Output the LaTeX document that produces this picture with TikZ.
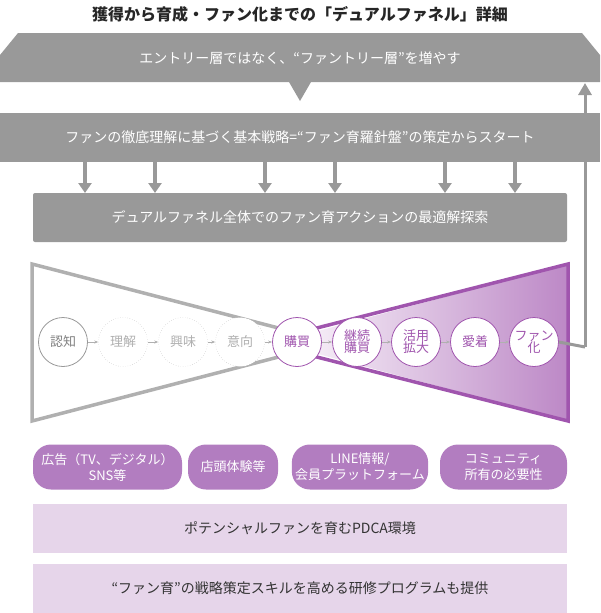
\documentclass[tikz,border=0pt]{standalone}
\usepackage{fontspec}
\setmainfont{Noto Sans CJK JP}
\usetikzlibrary{arrows.meta}
\definecolor{band}{HTML}{999999}
\definecolor{pur}{HTML}{A055AE}
\definecolor{pill}{HTML}{B27DC0}
\definecolor{lav}{HTML}{E6D5EA}
\definecolor{lgray}{HTML}{B0B0B0}
\tikzset{
 wt/.style={text=white,font=\fontsize{14}{17}\selectfont},
 dn/.style={band,line width=4pt,-{Triangle[width=13pt,length=10pt]}},
 stage/.style={circle,minimum size=49pt,inner sep=0pt,fill=white,align=center,font=\fontsize{13}{15}\selectfont},
 pstage/.style={stage,draw=pur,text=pur,line width=0.8pt},
 dstage/.style={stage,draw=lgray,dotted,text=lgray},
 sarr/.style={lgray,line width=0.8pt,-{Stealth[length=4pt]}},
 pillbox/.style={rounded corners=18pt,fill=pill,text=white,align=center,font=\fontsize{13}{16}\selectfont,minimum height=45pt},
 bar/.style={fill=lav,minimum width=534pt,minimum height=49pt,font=\fontsize{14}{17}\selectfont,text=black!80}
}
\begin{document}
\begin{tikzpicture}[x=1pt,y=-1pt]
\useasboundingbox (0,0) rectangle (600,613);
\node[font=\fontsize{16}{19}\selectfont\bfseries,text=black!85] (title) at (300,14) {獲得から育成・ファン化までの「デュアルファネル」詳細};
% top band
\fill[band] (18,33) -- (582,33) -- (600,55) -- (600,82) -- (311,82) -- (300,101) -- (289,82) -- (0,82) -- (0,55) -- cycle;
\node[wt] (b1) at (300,58) {エントリー層ではなく、“ファントリー層”を増やす};
\fill[band] (0,113) rectangle (600,162);
\node[wt] (b2) at (300,137) {ファンの徹底理解に基づく基本戦略=“ファン育羅針盤”の策定からスタート};
\fill[band,rounded corners=2pt] (33,193) rectangle (567,242);
\node[wt] (b3) at (300,217) {デュアルファネル全体でのファン育アクションの最適解探索};
\foreach \x in {85,155,265,335,445,515}{
 \coordinate (s\x) at (\x,162); \coordinate (e\x) at (\x,193);
 \draw[dn] (s\x) -- (e\x);}
% funnel
\shade[left color=pur!12,right color=pur!70] (318,331) -- (568,264) -- (568,421) -- (318,354) -- cycle;
\draw[lgray,line width=3.5pt,line join=miter] (290,331) -- (32,264) -- (32,421) -- (290,354);
\draw[pur,line width=3.5pt,line join=miter] (305,331) -- (568,264) -- (568,421) -- (305,354);
% stages
\node[stage,draw=gray!80,text=gray,line width=0.8pt] (c1) at (63,342) {認知};
\node[dstage] (c2) at (123,342) {理解};
\node[dstage] (c3) at (183,342) {興味};
\node[dstage] (c4) at (240,342) {意向};
\node[pstage] (c5) at (297,342) {購買};
\node[pstage] (c6) at (357,342) {継続\\[-3pt]購買};
\node[pstage] (c7) at (416,342) {活用\\[-3pt]拡大};
\node[pstage] (c8) at (475,342) {愛着};
\node[pstage] (c9) at (534,342) {ファン\\[-3pt]化};
\foreach \a/\b in {c1/c2,c2/c3,c3/c4,c4/c5,c5/c6,c6/c7,c7/c8,c8/c9}
 \draw[sarr] (\a) -- (\b);
% feedback
\coordinate (fb1) at (585,347);
\coordinate (fb2) at (585,83);
\draw[band,line width=3pt] (c9.east) -- (fb1);
\draw[band,line width=3pt,-{Triangle[width=13pt,length=12pt]}] (fb1) -- (fb2);
% pills
\node[pillbox,minimum width=149pt] (p1) at (107.5,467) {広告（TV、デジタル）\\SNS等};
\node[pillbox,minimum width=90pt] (p2) at (233,467) {店頭体験等};
\node[pillbox,minimum width=126pt] (p3) at (360,467) {LINE情報/\\会員プラットフォーム};
\node[pillbox,minimum width=127pt] (p4) at (503.5,467) {コミュニティ\\所有の必要性};
\node[bar] (r1) at (300,528) {ポテンシャルファンを育むPDCA環境};
\node[bar] (r2) at (300,588) {“ファン育”の戦略策定スキルを高める研修プログラムも提供};
\end{tikzpicture}
\end{document}
